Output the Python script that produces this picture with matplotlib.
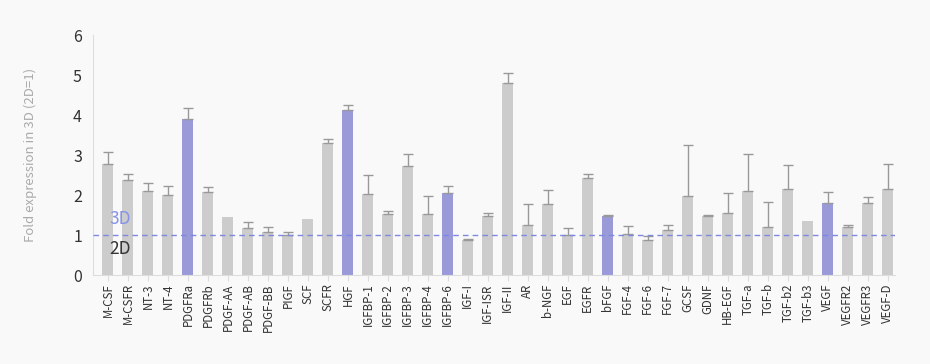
import numpy as np
import matplotlib
matplotlib.use("Agg")
import matplotlib.pyplot as plt

plt.rcParams['font.family'] = ['Noto Sans CJK KR', 'DejaVu Sans']

genes = ["M-CSF", "M-CSFR", "NT-3", "NT-4", "PDGFRa", "PDGFRb", "PDGF-AA", "PDGF-AB",
         "PDGF-BB", "PIGF", "SCF", "SCFR", "HGF", "IGFBP-1", "IGFBP-2", "IGFBP-3",
         "IGFBP-4", "IGFBP-6", "IGF-I", "IGF-ISR", "IGF-II", "AR", "b-NGF", "EGF",
         "EGFR", "bFGF", "FGF-4", "FGF-6", "FGF-7", "GCSF", "GDNF", "HB-EGF",
         "TGF-a", "TGF-b", "TGF-b2", "TGF-b3", "VEGF", "VEGFR2", "VEGFR3", "VEGF-D"]
fold = [2.78, 2.38, 2.1, 2.0, 3.9, 2.08, 1.45, 1.18, 1.08, 1.0, 1.4, 3.3, 4.13,
        2.03, 1.53, 2.73, 1.53, 2.05, 0.88, 1.48, 4.8, 1.25, 1.78, 1.0, 2.43, 1.48,
        1.03, 0.88, 1.13, 1.98, 1.48, 1.55, 2.1, 1.2, 2.15, 1.35, 1.8, 1.2, 1.8, 2.15]
err_top = [3.07, 2.52, 2.29, 2.22, 4.17, 2.19, None, 1.32, 1.19, 1.07, None, 3.39, 4.24,
           2.49, 1.59, 3.02, 1.97, 2.22, 0.9, 1.54, 5.04, 1.77, 2.12, 1.17, 2.52, 1.49,
           1.22, 0.98, 1.24, 3.24, 1.49, 2.04, 3.02, 1.82, 2.74, None, 2.07, 1.24, 1.94, 2.77]
highlight = ["PDGFRa", "HGF", "IGFBP-6", "bFGF", "VEGF"]

x = np.arange(len(genes))
vals = np.array(fold)
up = np.array([0 if e is None else e - v for e, v in zip(err_top, fold)])
colors = ["#9a9ad9" if g in highlight else "#cccccc" for g in genes]

fig = plt.figure(figsize=(9.3, 3.64), dpi=100)
fig.patch.set_facecolor("#f9f9f9")
ax = fig.add_axes([0.1, 0.2445, 0.862, 0.6593])
ax.set_facecolor("#f9f9f9")

ax.bar(x, vals, width=0.55, color=colors, zorder=2)
has = up > 0
ax.errorbar(x[has], vals[has], yerr=[np.zeros(has.sum()), up[has]], fmt="none",
            ecolor="#999999", elinewidth=1, capsize=3.5, capthick=1, zorder=3)

# 2D baseline
ax.axhline(1, color="#7f88e0", linestyle=(0, (4, 3)), linewidth=1, zorder=4)
ax.text(0.05, 1.4, "3D", color="#8593e8", fontsize=12.5, va="center", ha="left")
ax.text(0.05, 0.65, "2D", color="#333333", fontsize=12.5, va="center", ha="left")

ax.set_xlim(-0.75, 39.35)
ax.set_ylim(0, 6)
ax.set_yticks(range(7))
ax.set_xticks(x)
ax.set_xticklabels(genes, rotation=90, fontsize=8.3, color="#333333")
ax.tick_params(axis="y", length=0, labelsize=11.5, labelcolor="#333333", pad=8)
ax.tick_params(axis="x", length=4, color="#dddddd", pad=2)
ax.set_ylabel("Fold expression in 3D (2D=1)", color="#aaaaaa", fontsize=9.5, labelpad=26)

for s in ["top", "right"]:
    ax.spines[s].set_visible(False)
ax.spines["left"].set_color("#dddddd")
ax.spines["bottom"].set_color("#dddddd")

fig.savefig("out.png", dpi=100, facecolor=fig.get_facecolor())
